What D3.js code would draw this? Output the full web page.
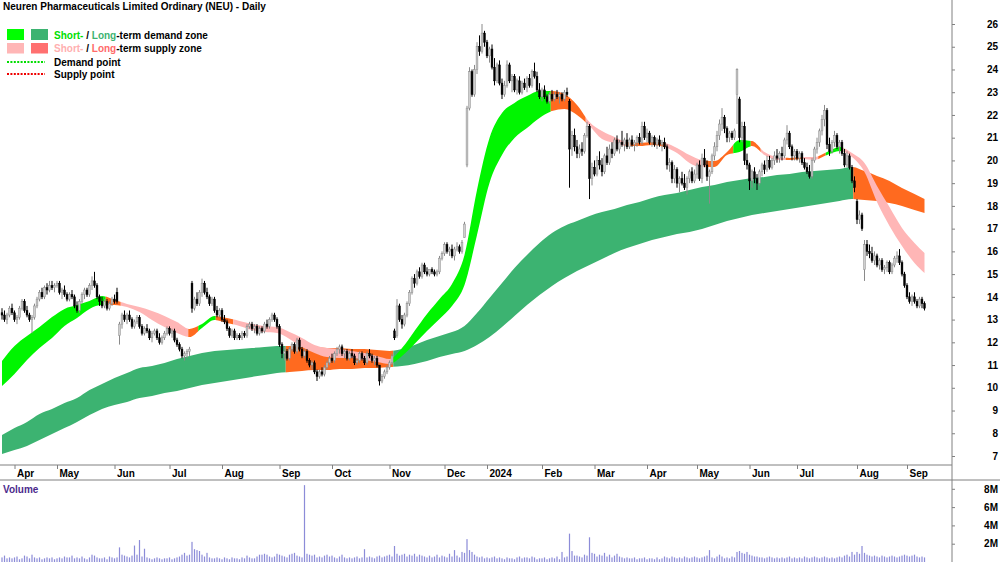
<!DOCTYPE html>
<html lang="en">
<head>
  <meta charset="UTF-8">
  <title>NEU Daily</title>
  <style>
    body { margin: 0; background: #fff; }
    svg text { font-family: "Liberation Sans", Arial, sans-serif; font-weight: bold; font-size: 10px; }
  </style>
</head>
<body>
<svg width="1000" height="562" id="viz"></svg>
<script src="https://d3js.org/d3.v7.min.js"></script>
<script>
/* global d3 */

// daily bars (prices in $)
let open = [
  13.3,13.2,13.0,13.2,13.5,13.3,13.0,13.1,13.5,13.8, 13.4,13.2,13.0,13.1,13.6,13.9,14.2,14.0,14.4,14.3,
  14.5,14.4,14.5,14.6,14.2,14.3,14.1,13.9,14.1,14.0, 13.6,13.4,13.8,14.1,14.3,14.1,14.5,14.7,14.5,14.0,
  13.8,13.6,13.8,13.5,13.7,13.9,14.2,12.3,12.8,13.2, 13.0,13.2,13.0,12.7,12.9,13.1,12.7,12.4,12.6,12.5,
  12.2,12.4,12.5,12.2,12.0,12.2,12.4,12.6,12.4,12.5, 12.1,11.9,11.7,11.4,11.5,11.6,14.6,13.5,13.9,13.7,
  14.2,14.6,14.2,14.0,13.7,13.9,13.4,13.2,13.4,13.0, 12.9,12.6,12.3,12.5,12.2,12.3,12.2,12.4,12.3,12.7,
  12.8,12.6,12.7,12.4,12.6,12.5,12.8,12.7,13.0,13.2, 13.0,12.7,11.9,11.5,11.6,11.3,11.7,11.9,11.6,12.1,
  11.7,11.4,11.6,11.2,11.0,11.1,10.7,10.5,10.7,10.6, 10.9,11.1,11.3,11.2,11.5,11.7,11.8,11.5,11.6,11.3,
  11.5,11.4,11.1,11.2,11.5,11.3,11.1,11.5,11.4,11.2, 11.3,11.0,10.3,10.5,10.7,10.9,11.1,12.5,12.3,13.6,
  13.0,12.8,13.2,13.7,14.2,14.8,14.6,15.1,14.9,15.4, 15.1,15.0,15.2,15.1,15.0,15.1,15.7,15.9,16.3,16.0,
  16.1,15.8,16.1,16.2,16.0,16.6,19.8,22.3,23.9,22.9, 24.0,25.0,24.8,25.6,25.2,24.6,24.9,24.1,23.5,24.2,
  23.4,22.9,23.3,24.2,23.5,23.7,23.1,23.5,23.0,23.4, 23.2,23.6,23.3,23.9,23.7,23.1,22.8,23.1,22.8,22.6,
  22.9,22.7,22.9,22.8,22.9,22.7,23.0,22.6,20.5,21.1, 20.6,20.3,20.5,20.4,21.1,21.5,19.2,19.7,19.4,20.0,
  19.8,19.5,20.2,19.9,20.5,20.3,20.9,20.5,20.8,20.7, 20.9,20.6,20.9,20.7,20.8,21.0,20.8,21.5,21.0,21.2,
  20.8,21.0,20.7,20.9,20.7,20.8,20.6,19.8,19.9,19.2, 19.6,19.0,19.2,19.0,18.8,19.2,19.5,19.1,19.4,19.8,
  19.2,20.1,19.8,19.3,19.5,20.2,20.6,21.1,21.6,21.9, 21.4,21.0,21.2,21.0,22.9,22.7,21.0,21.5,20.0,19.8,
  19.1,19.5,19.2,19.0,19.5,19.8,19.6,20.0,19.7,20.0, 20.2,20.1,20.3,20.2,20.9,21.2,20.6,20.2,20.4,20.1,
  20.3,19.9,19.7,19.5,19.3,20.0,20.5,20.8,21.3,21.8, 22.2,20.7,20.4,20.8,21.1,20.6,20.8,20.3,19.8,20.2,
  19.7,19.1,18.2,17.4,17.6,15.2,16.3,16.0,15.9,15.6, 15.8,15.4,15.6,15.2,15.3,15.5,15.1,15.4,15.7,15.8,
  15.5,15.0,14.5,14.0,13.8,14.0,13.8,13.6,13.9,13.7
];
let high = [
  13.5,13.4,13.3,13.6,13.7,13.4,13.2,13.6,13.9,13.9, 13.6,13.3,13.2,13.7,14.0,14.3,14.4,14.5,14.6,14.7,
  14.7,14.6,14.7,14.7,14.4,14.5,14.2,14.2,14.3,14.1, 13.8,13.9,14.2,14.4,14.4,14.6,14.9,15.1,14.6,14.1,
  14.0,13.9,13.9,13.8,14.0,14.1,14.4,12.9,13.3,13.4, 13.3,13.4,13.1,13.0,13.2,13.2,12.8,12.7,12.8,12.6,
  12.5,12.6,12.6,12.4,12.3,12.5,12.7,12.7,12.6,12.6, 12.2,12.0,11.8,11.6,11.7,11.8,14.7,14.0,14.2,14.3,
  14.8,14.7,14.4,14.1,14.0,14.0,13.6,13.5,13.5,13.2, 13.0,12.7,12.6,12.6,12.4,12.4,12.5,12.5,12.8,12.9,
  12.9,12.8,12.8,12.7,12.7,12.9,13.0,13.1,13.3,13.3, 13.1,12.8,12.0,11.8,11.7,11.8,12.0,12.0,12.2,12.2,
  11.8,11.7,11.7,11.3,11.2,11.2,10.8,10.8,10.9,11.0, 11.2,11.4,11.5,11.6,11.8,11.9,11.9,11.7,11.7,11.6,
  11.7,11.5,11.3,11.6,11.6,11.4,11.6,11.7,11.5,11.4, 11.4,11.0,10.6,10.8,11.0,11.2,11.5,12.6,13.9,13.7,
  13.2,13.3,13.8,14.3,14.9,15.0,15.2,15.3,15.5,15.5, 15.3,15.2,15.3,15.2,15.2,15.8,16.0,16.4,16.4,16.2,
  16.3,16.2,16.4,16.3,16.5,17.3,22.4,24.1,24.0,24.2, 25.2,25.5,26.0,25.7,25.3,25.0,25.1,24.5,24.3,24.4,
  23.6,23.5,24.4,24.3,23.8,23.8,23.6,23.7,23.5,23.6, 23.7,23.8,24.0,24.3,23.9,23.4,23.2,23.3,22.9,23.0,
  23.1,23.0,23.1,23.0,23.0,23.1,23.2,22.7,21.3,21.4, 20.9,20.7,20.8,21.2,21.7,21.6,19.9,20.0,20.2,20.4,
  20.1,20.3,20.6,20.7,20.8,21.0,21.1,20.9,21.3,21.0, 21.2,21.0,21.1,20.9,21.1,21.2,21.7,21.7,21.4,21.3,
  21.1,21.1,21.0,21.1,20.9,21.0,20.7,20.1,20.0,19.8, 19.7,19.3,19.5,19.4,19.3,19.6,19.7,19.6,19.9,20.0,
  20.3,20.5,20.0,19.6,20.3,20.8,21.3,21.8,22.3,22.0, 21.5,21.3,21.3,21.4,24.05,22.8,21.7,21.7,20.3,19.9,
  19.6,19.7,19.4,19.6,19.9,20.0,20.2,20.2,20.1,20.4, 20.5,20.4,20.6,21.0,21.55,21.3,20.7,20.5,20.5,20.4,
  20.4,20.1,19.9,19.8,20.1,20.6,21.0,21.4,22.0,22.44, 22.3,21.0,20.9,21.3,21.2,20.9,20.9,20.5,20.4,20.3,
  19.8,19.3,18.3,17.8,17.7,16.5,16.5,16.3,16.2,16.0, 15.9,15.7,15.7,15.4,15.6,15.6,15.5,15.8,16.0,16.1,
  15.6,15.1,14.6,14.2,14.1,14.2,13.9,14.0,14.0,13.8
];
let low = [
  13.0,12.9,12.8,13.1,13.2,12.9,12.8,13.0,13.4,13.3, 13.1,12.9,12.4,13.0,13.5,13.8,13.9,13.9,14.1,14.2,
  14.3,14.2,14.4,14.1,13.9,14.0,13.8,13.8,13.9,13.5, 13.3,13.3,13.7,13.9,14.0,14.0,14.3,14.4,13.9,13.6,
  13.5,13.5,13.4,13.4,13.6,13.7,13.7,11.9,12.6,12.9, 12.8,12.9,12.6,12.6,12.8,12.6,12.3,12.3,12.4,12.1,
  12.0,12.3,12.1,11.9,11.9,12.1,12.3,12.3,12.2,12.0, 11.8,11.6,11.3,11.2,11.3,11.4,13.3,13.4,13.6,13.6,
  14.0,14.1,13.9,13.6,13.6,13.3,13.1,13.1,12.9,12.8, 12.5,12.2,12.2,12.1,12.1,12.1,12.1,12.2,12.2,12.6,
  12.5,12.4,12.3,12.3,12.4,12.4,12.6,12.6,12.9,12.9, 12.6,11.8,11.3,11.2,11.2,11.2,11.6,11.5,11.5,11.6,
  11.3,11.3,11.1,10.9,10.8,10.6,10.3,10.4,10.5,10.5, 10.8,11.0,11.1,11.1,11.4,11.5,11.4,11.3,11.2,11.2,
  11.3,11.0,11.0,11.1,11.2,11.0,11.0,11.3,11.1,11.0, 10.9,10.1,10.2,10.4,10.6,10.8,11.0,12.1,12.2,12.9,
  12.6,12.7,13.1,13.6,14.1,14.4,14.5,14.8,14.8,15.0, 14.9,14.9,15.0,14.9,14.9,15.0,15.6,15.8,15.9,15.8,
  15.7,15.6,16.0,15.9,15.9,16.6,19.7,22.2,22.8,22.8, 23.8,24.6,24.7,25.0,24.5,24.3,24.0,23.3,23.4,23.3,
  22.7,22.8,23.2,23.4,23.0,23.0,22.9,22.9,22.9,23.1, 23.0,23.2,23.2,23.6,23.0,22.7,22.6,22.7,22.5,22.5,
  22.6,22.6,22.7,22.5,22.6,22.6,22.8,18.8,20.2,20.4, 20.1,20.1,20.2,20.3,21.0,18.3,18.9,19.3,19.3,19.6,
  19.3,19.4,19.8,19.8,20.1,20.2,20.4,20.3,20.6,20.4, 20.5,20.5,20.6,20.4,20.6,20.7,20.7,20.9,20.8,20.7,
  20.6,20.6,20.5,20.6,20.4,20.5,19.6,19.5,19.0,19.0, 18.8,18.6,18.9,18.7,18.5,19.0,19.0,19.0,19.2,19.1,
  19.0,19.7,19.1,18.1,19.4,20.0,20.4,20.9,21.3,21.2, 20.8,20.8,20.9,20.9,21.6,20.8,20.8,19.8,19.6,18.7,
  18.8,19.0,18.7,18.9,19.3,19.4,19.5,19.6,19.6,19.8, 19.9,19.9,20.0,20.1,20.7,20.5,20.0,20.0,20.0,19.9,
  19.8,19.6,19.4,19.2,19.2,19.9,20.3,20.6,21.1,21.5, 20.5,20.2,20.3,20.6,20.5,20.3,20.2,19.7,19.7,19.6,
  19.0,18.6,17.2,17.2,16.9,14.7,15.8,15.7,15.5,15.4, 15.3,15.2,15.1,15.0,15.1,15.0,15.0,15.3,15.5,15.4,
  14.9,14.4,13.9,13.7,13.6,13.7,13.5,13.5,13.5,13.4
];
let close = [
  13.2,13.0,13.2,13.5,13.3,13.0,13.1,13.5,13.8,13.4, 13.2,13.0,13.1,13.6,13.9,14.2,14.0,14.4,14.3,14.5,
  14.4,14.5,14.6,14.2,14.3,14.1,13.9,14.1,14.0,13.6, 13.4,13.8,14.1,14.3,14.1,14.5,14.7,14.5,14.0,13.8,
  13.6,13.8,13.5,13.7,13.9,13.8,13.8,12.8,13.2,13.0, 13.2,13.0,12.7,12.9,13.1,12.7,12.4,12.6,12.5,12.2,
  12.4,12.5,12.2,12.0,12.2,12.4,12.6,12.4,12.5,12.1, 11.9,11.7,11.4,11.5,11.6,11.7,13.5,13.9,13.7,14.2,
  14.6,14.2,14.0,13.7,13.9,13.4,13.2,13.4,13.0,12.9, 12.6,12.3,12.5,12.2,12.3,12.2,12.4,12.3,12.7,12.8,
  12.6,12.7,12.4,12.6,12.5,12.8,12.7,13.0,13.2,13.0, 12.7,11.9,11.5,11.6,11.3,11.7,11.9,11.6,12.1,11.7,
  11.4,11.6,11.2,11.0,11.1,10.7,10.5,10.7,10.6,10.9, 11.1,11.3,11.2,11.5,11.7,11.8,11.5,11.6,11.3,11.5,
  11.4,11.1,11.2,11.5,11.3,11.1,11.5,11.4,11.2,11.3, 11.0,10.3,10.5,10.7,10.9,11.1,11.4,12.2,13.6,13.0,
  12.8,13.2,13.7,14.2,14.8,14.6,15.1,14.9,15.4,15.1, 15.0,15.2,15.1,15.0,15.1,15.7,15.9,16.3,16.0,16.1,
  15.8,16.1,16.2,16.0,16.4,17.2,22.3,23.9,22.9,24.0, 25.0,24.8,25.6,25.2,24.6,24.9,24.1,23.5,24.2,23.4,
  22.9,23.3,24.2,23.5,23.7,23.1,23.5,23.0,23.4,23.2, 23.6,23.3,23.9,23.7,23.1,22.8,23.1,22.8,22.6,22.9,
  22.7,22.9,22.8,22.9,22.7,23.0,22.9,20.5,21.1,20.6, 20.3,20.5,20.4,21.1,21.5,19.2,19.7,19.4,20.0,19.8,
  19.5,20.2,19.9,20.5,20.3,20.9,20.5,20.8,20.7,20.9, 20.6,20.9,20.7,20.8,21.0,20.8,21.5,21.0,21.2,20.8,
  21.0,20.7,20.9,20.7,20.8,20.6,19.8,19.9,19.2,19.6, 19.0,19.2,19.0,18.8,19.2,19.5,19.1,19.4,19.8,19.2,
  20.1,19.8,19.3,19.5,20.2,20.6,21.1,21.6,21.9,21.4, 21.0,21.2,21.0,21.3,24.0,21.0,21.5,20.0,19.8,19.1,
  19.5,19.2,19.0,19.5,19.8,19.6,20.0,19.7,20.0,20.2, 20.1,20.3,20.2,20.9,21.2,20.6,20.2,20.4,20.1,20.3,
  19.9,19.7,19.5,19.3,20.0,20.5,20.8,21.3,21.8,22.2, 20.7,20.4,20.8,21.1,20.6,20.8,20.3,19.8,20.2,19.7,
  19.1,18.8,17.4,17.6,17.0,16.3,16.0,15.9,15.6,15.8, 15.4,15.6,15.2,15.3,15.5,15.1,15.4,15.7,15.8,15.5,
  15.0,14.5,14.0,13.8,14.0,13.8,13.6,13.9,13.7,13.5
];
// volume in millions of shares
let volume = [
  .5,.7,.4,.5,.4,.5,.6,.3,.4,.7, .6,.4,.8,.5,.4,.5,.3,.4,.5,.4, .5,.3,.4,.5,.4,.6,.5,.5,.7,.4,
  .5,.4,.6,.4,.3,.5,.8,.7,.5,.4, .4,.5,.3,.6,.5,.4,.5,1.6,.8,.7, .6,.5,.7,1.8,.8,2.4,.6,1.45,.5,.4,
  .3,.4,.5,.4,.3,.4,.4,.5,.3,.4, .5,.6,.8,1.0,.7,.8,2.2,1.4,1.3,1.2, .8,.6,1.0,.5,.4,.4,.5,.4,.3,.5,
  .4,.3,.5,.4,.4,.3,.5,.4,.7,.5, .4,.4,.6,.8,.8,.9,.8,.6,.5,.6, .9,.8,.7,.6,.5,.8,.9,1.0,.7,.6,
  .5,8.4,.9,.8,.7,.8,.5,.6,.5,.7, .8,.6,.7,.5,.4,.6,.8,.5,.4,.5, .4,.5,.6,.4,.5,1.4,.5,.6,.5,.4,
  .6,.7,.5,.6,.7,.8,.6,1.75,.9,.7, .8,.9,.6,.8,.7,.9,.6,.8,.7,.6, .5,.7,.5,.6,.8,.5,.7,.6,.5,.9,
  .6,1.3,.7,.5,1.1,1.0,2.5,1.3,1.1,.8, .6,.5,.6,.4,.5,.4,.5,.6,.4,.5, .4,.3,.5,.4,.4,.3,.5,.6,.4,.5,
  .5,.4,.6,.5,.3,.4,.4,.5,.3,.4, .5,.4,.6,.3,1.1,.5,.6,3.1,1.2,.7, .7,.6,.5,.8,.7,2.7,1.0,.9,.6,.8,
  .7,1.0,.6,.8,.5,.7,.9,.6,.5,.4, .5,.4,.4,.5,.3,.4,.4,.5,.3,.4, .4,.3,.5,.3,.4,.6,.5,.4,.6,.5,
  .4,.5,.4,.6,.5,.4,.5,.6,.5,.4, .5,.6,.7,1.3,.5,.4,.6,.8,.6,.4, .5,.4,.6,.5,1.1,1.2,1.0,.9,1.1,.8,
  .7,.6,.6,.5,.5,.4,.5,.6,.5,.4, .5,.4,.5,.4,.5,.6,.4,.5,.4,.5, .4,.6,.5,.4,.5,.6,.5,.4,.5,.6,
  .5,.4,.5,.4,.5,.6,.5,.7,.8,.6, 1.1,.8,1.1,.9,1.75,1.0,.8,.7,.6,.7, .6,.5,.7,.6,.5,.6,.7,.6,.5,.6,
  .7,.8,.7,.6,.7,.8,.6,.5,.6,.5
];

// zone bands, sampled every 5th bar (plus the last bar)
let bandIdx = d3.range(0, 370, 5).concat([369]);
let shortTop = [
  11.18,11.84,12.28,12.67,13.11,13.47,13.64,13.82,14.04,13.86, 13.69,13.55,13.38,13.16,12.89,12.59,12.81,13.16,13.07,12.94,
  12.81,12.72,12.67,12.45,12.19,11.88,11.75,11.71,11.62,11.53, 11.40,11.27,11.75,12.50,13.25,13.91,14.57,15.84,18.70,20.99,
  22.09,22.53,22.83,23.05,23.05,22.92,22.44,21.69,21.29,21.03, 20.81,20.77,20.81,20.77,20.55,20.24,20.02,19.97,20.37,20.90,
  20.85,20.37,20.15,20.11,20.15,20.15,20.37,20.59,20.33,19.89, 18.88,17.95,17.03,16.37,15.93
];
let shortBottom = [
  10.08,10.61,11.22,11.75,12.19,12.72,13.07,13.47,13.64,13.64, 13.55,13.33,12.98,12.67,12.41,12.23,12.63,12.98,12.85,12.72,
  12.54,12.45,12.41,12.15,11.79,11.53,11.35,11.31,11.31,11.22, 11.13,11.05,11.40,11.93,12.50,13.03,13.60,14.52,16.72,19.01,
  20.24,20.99,21.43,21.87,22.17,22.26,22.00,21.51,20.94,20.77, 20.63,20.63,20.68,20.59,20.33,19.89,19.71,19.71,20.24,20.37,
  20.63,20.24,20.02,20.02,20.06,20.02,20.24,20.41,20.15,19.49, 18.17,17.12,16.24,15.49,15.05
];
let longTop = [
  7.92,8.23,8.50,8.85,9.07,9.33,9.55,9.90,10.17,10.43, 10.65,10.87,10.96,11.09,11.27,11.40,11.53,11.62,11.66,11.71,
  11.75,11.79,11.84,11.84,11.79,11.79,11.75,11.75,11.71,11.71, 11.66,11.62,11.71,11.88,12.10,12.28,12.45,12.72,13.29,13.95,
  14.61,15.27,15.84,16.37,16.81,17.12,17.34,17.56,17.73,17.86, 18.04,18.17,18.35,18.48,18.57,18.70,18.83,18.92,19.05,19.14,
  19.23,19.27,19.36,19.40,19.49,19.53,19.58,19.62,19.71,19.53, 19.32,19.10,18.79,18.52,18.30
];
let longBottom = [
  7.09,7.26,7.44,7.70,7.97,8.23,8.50,8.80,9.07,9.24, 9.38,9.55,9.64,9.77,9.86,9.99,10.12,10.21,10.30,10.39,
  10.48,10.56,10.65,10.69,10.74,10.78,10.78,10.83,10.83,10.87, 10.87,10.91,10.96,11.05,11.18,11.35,11.49,11.62,11.88,12.23,
  12.67,13.16,13.64,14.08,14.48,14.83,15.14,15.40,15.66,15.93, 16.15,16.32,16.50,16.63,16.76,16.85,16.98,17.16,17.34,17.47,
  17.60,17.69,17.78,17.86,17.95,18.04,18.13,18.22,18.30,18.26, 18.22,18.13,18.00,17.82,17.69
];
// bar index where each colour run starts
let shortZoneStart = [0,42,48,75,79,86,93,157,220,234,250,266,282,293,300,304,314,321,327,330,337];
let shortZoneKind  = ["d","o","s","o","d","o","s","d","o","s","o","s","o","d","o","s","o","s","o","d","s"];
let longZoneStart = [0,114,157,341];
let longZoneKind  = ["d","s","d","s"];

let monthIdx = [5,22,45,67,88,111,132,155,177,194,216,237,258,278,299,318,342,362];
let monthLabels = ["Apr","May","Jun","Jul","Aug","Sep","Oct","Nov","Dec","2024","Feb","Mar","Apr","May","Jun","Jul","Aug","Sep"];
let priceTicks = d3.range(7, 27);
let volTicks = [2, 4, 6, 8];

let shortColor = {d: "#00f500", s: "#ffb6b6", o: "#ff6a1f"};
let longColor = {d: "#3cb371", s: "#ff6a1f"};

let svg = d3.select("#viz");
let axisX = 952;

let x = d3.scaleLinear().domain([0, 369]).range([2, 924.5]);
let y = d3.scaleLinear().domain([7, 26]).range([456, 24]);
let yVol = d3.scaleLinear().domain([0, 8]).range([562, 488.8]);
let step = x(1) - x(0);

let defs = svg.append("defs");

function drawBand(name, top, bottom, starts, kinds, colors) {
  let area = d3.area()
    .x((d, k) => x(bandIdx[k]))
    .y0((d, k) => y(bottom[k]))
    .y1((d, k) => y(top[k]))
    .curve(d3.curveMonotoneX);
  starts.forEach((s, j) => {
    let x0 = j === 0 ? 0 : x(s) - step / 2;
    let x1 = j === starts.length - 1 ? axisX : x(starts[j + 1]) - step / 2;
    defs.append("clipPath").attr("id", name + j)
      .append("rect")
      .attr("x", x0).attr("y", 0)
      .attr("width", x1 - x0).attr("height", 470);
    svg.append("path")
      .datum(top)
      .attr("d", area)
      .attr("fill", colors[kinds[j]])
      .attr("clip-path", "url(#" + name + j + ")");
  });
}

drawBand("lz", longTop, longBottom, longZoneStart, longZoneKind, longColor);
drawBand("sz", shortTop, shortBottom, shortZoneStart, shortZoneKind, shortColor);

// candles
let bars = close.map((c, i) => ({i: i, o: open[i], h: high[i], l: low[i], c: c, v: volume[i]}));

let g = svg.append("g");
g.selectAll(".wick")
  .data(bars)
  .enter().append("line")
  .attr("class", "wick")
  .attr("x1", d => x(d.i)).attr("x2", d => x(d.i))
  .attr("y1", d => y(d.h)).attr("y2", d => y(d.l))
  .attr("stroke", d => d.c >= d.o ? "#8a8a8a" : "#000")
  .attr("stroke-width", 1);

g.selectAll(".body")
  .data(bars)
  .enter().append("rect")
  .attr("class", "body")
  .attr("x", d => x(d.i) - 0.9)
  .attr("width", 1.8)
  .attr("y", d => y(Math.max(d.o, d.c)))
  .attr("height", d => Math.max(0.8, Math.abs(y(d.o) - y(d.c))))
  .attr("fill", d => d.c >= d.o ? "#cfcfcf" : "#000")
  .attr("stroke", d => d.c >= d.o ? "#8a8a8a" : "#000")
  .attr("stroke-width", 0.5);

// volume
svg.selectAll(".vol")
  .data(bars)
  .enter().append("rect")
  .attr("class", "vol")
  .attr("x", d => x(d.i) - 0.6)
  .attr("width", 1.2)
  .attr("y", d => yVol(d.v))
  .attr("height", d => yVol(0) - yVol(d.v))
  .attr("fill", "#8c8cd8");

// frame lines
svg.append("line").attr("x1", 0).attr("x2", axisX).attr("y1", 465).attr("y2", 465).attr("stroke", "#808080");
svg.append("line").attr("x1", 0).attr("x2", 1000).attr("y1", 480).attr("y2", 480).attr("stroke", "#808080");
svg.append("line").attr("x1", axisX).attr("x2", axisX).attr("y1", 0).attr("y2", 562).attr("stroke", "#808080");

// price axis
let yAxis = svg.append("g")
  .attr("transform", "translate(" + axisX + ",0)")
  .call(d3.axisRight(y).tickValues(priceTicks).tickSize(3).tickFormat(d3.format("d")));
yAxis.select(".domain").remove();
yAxis.selectAll("line").attr("stroke", "#808080");
yAxis.selectAll("text").attr("text-anchor", "end").attr("x", 46).attr("fill", "#000");

// volume axis
let vAxis = svg.append("g")
  .attr("transform", "translate(" + axisX + ",0)")
  .call(d3.axisRight(yVol).tickValues(volTicks).tickSize(3).tickFormat(d => d + "M"));
vAxis.select(".domain").remove();
vAxis.selectAll("line").attr("stroke", "#808080");
vAxis.selectAll("text").attr("text-anchor", "end").attr("x", 46).attr("fill", "#000");

// month axis
let xAxis = svg.append("g")
  .attr("transform", "translate(0,465)")
  .call(d3.axisBottom(x).tickValues(monthIdx).tickSize(4).tickPadding(1)
    .tickFormat((d, i) => monthLabels[i]));
xAxis.select(".domain").remove();
xAxis.selectAll("line").attr("stroke", "#808080");
xAxis.selectAll("text").attr("text-anchor", "start").attr("x", 2).attr("fill", "#000");

// title + legend
svg.append("text").attr("x", 3).attr("y", 10).text("Neuren Pharmaceuticals Limited Ordinary (NEU) - Daily");

let legend = svg.append("g");
legend.append("rect").attr("x", 7).attr("y", 29).attr("width", 17).attr("height", 11).attr("fill", "#00ff00");
legend.append("rect").attr("x", 31).attr("y", 29).attr("width", 17).attr("height", 11).attr("fill", "#3cb371");
legend.append("rect").attr("x", 7).attr("y", 43).attr("width", 17).attr("height", 10.5).attr("fill", "#ffb6b6");
legend.append("rect").attr("x", 31).attr("y", 43).attr("width", 17).attr("height", 10.5).attr("fill", "#ff7070");

let row1 = legend.append("text").attr("x", 54).attr("y", 38.5);
row1.append("tspan").attr("fill", "#00e000").text("Short-");
row1.append("tspan").text(" / ");
row1.append("tspan").attr("fill", "#3cb371").text("Long");
row1.append("tspan").text("-term demand zone");

let row2 = legend.append("text").attr("x", 54).attr("y", 52);
row2.append("tspan").attr("fill", "#ffb0b0").text("Short-");
row2.append("tspan").text(" / ");
row2.append("tspan").attr("fill", "#ff6a6a").text("Long");
row2.append("tspan").text("-term supply zone");

legend.append("line").attr("x1", 7).attr("x2", 45).attr("y1", 62).attr("y2", 62)
  .attr("stroke", "#00dd00").attr("stroke-width", 2).attr("stroke-dasharray", "2,1.4");
legend.append("text").attr("x", 54).attr("y", 65.5).text("Demand point");
legend.append("line").attr("x1", 7).attr("x2", 45).attr("y1", 74).attr("y2", 74)
  .attr("stroke", "#ee0000").attr("stroke-width", 2).attr("stroke-dasharray", "2,1.4");
legend.append("text").attr("x", 54).attr("y", 78).text("Supply point");

svg.append("text").attr("x", 3).attr("y", 493).attr("fill", "#4b2a8c").text("Volume");
</script>
</body>
</html>
